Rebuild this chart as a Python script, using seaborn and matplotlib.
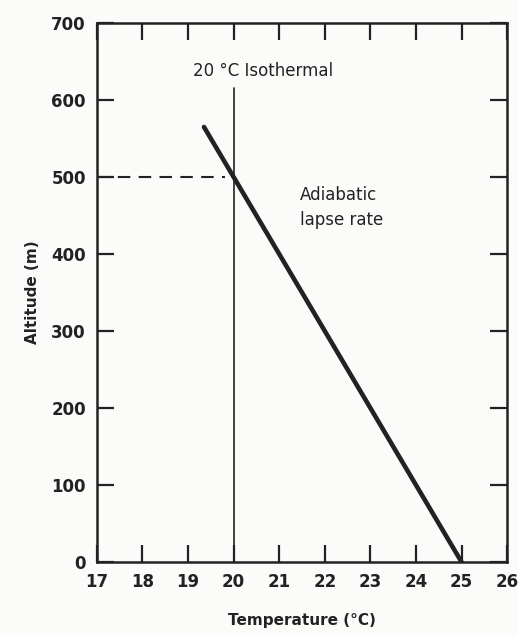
import matplotlib
matplotlib.use("Agg")
import matplotlib.pyplot as plt
import seaborn as sns
import pandas as pd

# Data
temp_ticks = [17, 18, 19, 20, 21, 22, 23, 24, 25, 26]
alt_ticks = [0, 100, 200, 300, 400, 500, 600, 700]
adiabatic_temp = [19.35, 25.0]
adiabatic_alt = [565, 0]
isothermal_temp = [20, 20]
isothermal_alt = [0, 615]
ref_temp = [17, 19.8]
ref_alt = [500, 500]

sns.set_theme(style="ticks")
plt.rcParams['font.family'] = ['DejaVu Sans']
ink = "#222222"

fig = plt.figure(figsize=(5.18, 6.36), dpi=100)
fig.patch.set_facecolor("#fbfbf9")
ax = fig.add_axes([0.187, 0.1164, 0.792, 0.8474])
ax.set_facecolor("#fbfbf9")

df_ad = pd.DataFrame({"t": adiabatic_temp, "a": adiabatic_alt})
df_iso = pd.DataFrame({"t": isothermal_temp, "a": isothermal_alt})
df_ref = pd.DataFrame({"t": ref_temp, "a": ref_alt})

sns.lineplot(data=df_ad, x="t", y="a", ax=ax, color=ink, lw=3.3,
             sort=False, estimator=None, solid_capstyle="round")
sns.lineplot(data=df_iso, x="t", y="a", ax=ax, color=ink, lw=1.2,
             sort=False, estimator=None)
sns.lineplot(data=df_ref, x="t", y="a", ax=ax, color=ink, lw=1.5,
             sort=False, estimator=None, dashes=False, linestyle=(0, (6, 4)))

ax.set_xlim(17, 26)
ax.set_ylim(0, 700)
ax.set_xticks(temp_ticks)
ax.set_xticklabels([str(t) for t in temp_ticks])
ax.set_yticks(alt_ticks)
ax.set_yticklabels([str(a) for a in alt_ticks])

ax.tick_params(axis="both", direction="in", length=12, width=1.6, color=ink,
               labelsize=12, labelcolor=ink, top=True, right=True, pad=8)
for lbl in ax.get_xticklabels() + ax.get_yticklabels():
    lbl.set_fontweight("bold")
for s in ax.spines.values():
    s.set_linewidth(1.8)
    s.set_color(ink)
    s.set_visible(True)

ax.set_xlabel("Temperature (°C)", fontsize=11, fontweight="bold", color=ink, labelpad=16)
ax.set_ylabel("Altitude (m)", fontsize=11, fontweight="bold", color=ink, labelpad=8)

ax.text(19.1, 638, "20 °C Isothermal", fontsize=12, color=ink, va="center", ha="left")
ax.text(21.45, 460, "Adiabatic\nlapse rate", fontsize=12, color=ink, va="center",
        ha="left", linespacing=1.5)

fig.savefig("out.png", dpi=100, facecolor=fig.get_facecolor())
